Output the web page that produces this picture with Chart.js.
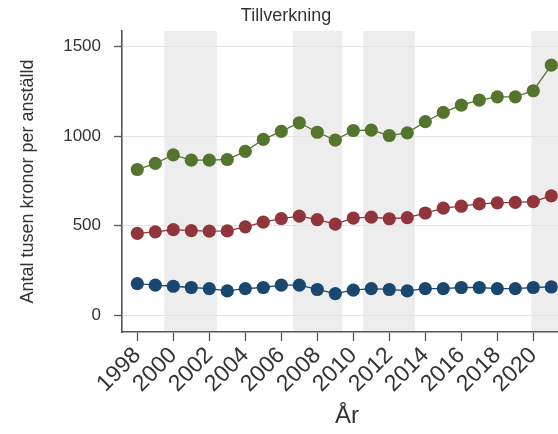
<!DOCTYPE html>
<html>
<head>
<meta charset="utf-8">
<script src="https://cdn.jsdelivr.net/npm/chart.js@4/dist/chart.umd.min.js"></script>
<style>
html,body{margin:0;padding:0;background:#fff;overflow:hidden;width:558px;height:434px;}
canvas{display:block;}
</style>
</head>
<body>
<canvas id="c" width="580" height="434"></canvas>
<script>
const years = [1998,1999,2000,2001,2002,2003,2004,2005,2006,2007,2008,2009,2010,2011,2012,2013,2014,2015,2016,2017,2018,2019,2020,2021];
const greenSeries = [814,848,896,866,866,870,915,982,1027,1075,1022,978,1032,1034,1004,1019,1081,1133,1174,1202,1220,1220,1254,1397];
const redSeries = [457,466,478,473,470,471,494,520,540,554,534,509,543,548,539,545,571,598,609,622,628,630,635,667];
const blueSeries = [177,168,162,155,149,136,149,155,168,168,144,121,140,149,144,136,149,149,155,155,149,149,155,158];
const xTickYears = [1998,2000,2002,2004,2006,2008,2010,2012,2014,2016,2018,2020];
const yTickValues = [0,500,1000,1500];
const bandStarts = [1999.5,2006.65,2010.55,2019.9];
const bandEnds = [2002.42,2009.38,2013.42,2023];

const FONT = "'Liberation Sans', Arial, sans-serif";

function pts(arr){ return years.map((y,i)=>({x:y,y:arr[i]})); }
function ds(label, arr, color){
  return {label, data:pts(arr), borderColor:color, backgroundColor:color,
    pointBackgroundColor:color, pointBorderColor:color, pointRadius:6.6, pointBorderWidth:0,
    borderWidth:1.3, tension:0, pointHoverRadius:6.6};
}

const bandPlugin = {
  id:'bands',
  beforeDraw(chart){
    const {ctx, chartArea:a, scales:{x}} = chart;
    ctx.save();
    ctx.beginPath(); ctx.rect(a.left, a.top, a.right-a.left, a.bottom-a.top); ctx.clip();
    ctx.fillStyle = '#ededed';
    bandStarts.forEach((s,i)=>{
      const x0 = x.getPixelForValue(s), x1 = x.getPixelForValue(bandEnds[i]);
      ctx.fillRect(x0, a.top, x1-x0, a.bottom-a.top);
    });
    ctx.restore();
  }
};

new Chart(document.getElementById('c'), {
  type:'line',
  data:{datasets:[ds('Grön', greenSeries, '#55752f'), ds('Röd', redSeries, '#90353b'), ds('Blå', blueSeries, '#1a476f')]},
  options:{
    responsive:false, animation:false,
    layout:{padding:{left:0,right:8,top:0,bottom:0}},
    plugins:{
      legend:{display:false}, tooltip:{enabled:false},
      title:{display:true, text:'Tillverkning', color:'#333', font:{family:FONT,size:18,weight:'normal'}, padding:{top:5,bottom:4.4}}
    },
    scales:{
      x:{type:'linear', min:1997.15, max:2022.15,
        afterBuildTicks(s){ s.ticks = xTickYears.map(v=>({value:v})); },
        afterFit(s){ s.height = 102; },
        ticks:{color:'#333', font:{family:FONT,size:23}, minRotation:45, maxRotation:45, padding:1, autoSkip:false,
          callback:(v)=>String(v)},
        grid:{drawOnChartArea:false, drawTicks:true, tickLength:9, tickColor:'#555', tickWidth:1.3},
        border:{display:true, color:'#555', width:1.6},
        title:{display:true, text:'År', color:'#333', font:{family:FONT,size:24}, padding:{bottom:3}}
      },
      y:{type:'linear', min:-93.5, max:1587.6,
        afterBuildTicks(s){ s.ticks = yTickValues.map(v=>({value:v})); },
        afterFit(s){ s.width = 122; },
        ticks:{color:'#333', font:{family:FONT,size:17}, padding:13, callback:(v)=>String(v)},
        grid:{color:'#e4e4e4', lineWidth:1, drawTicks:true, tickLength:8, tickColor:'#555', tickWidth:1.3},
        border:{display:true, color:'#555', width:1.6},
        title:{display:true, text:'Antal tusen kronor per anställd', color:'#333', font:{family:FONT,size:18}, padding:{top:17}}
      }
    }
  },
  plugins:[bandPlugin]
});
</script>
</body>
</html>
